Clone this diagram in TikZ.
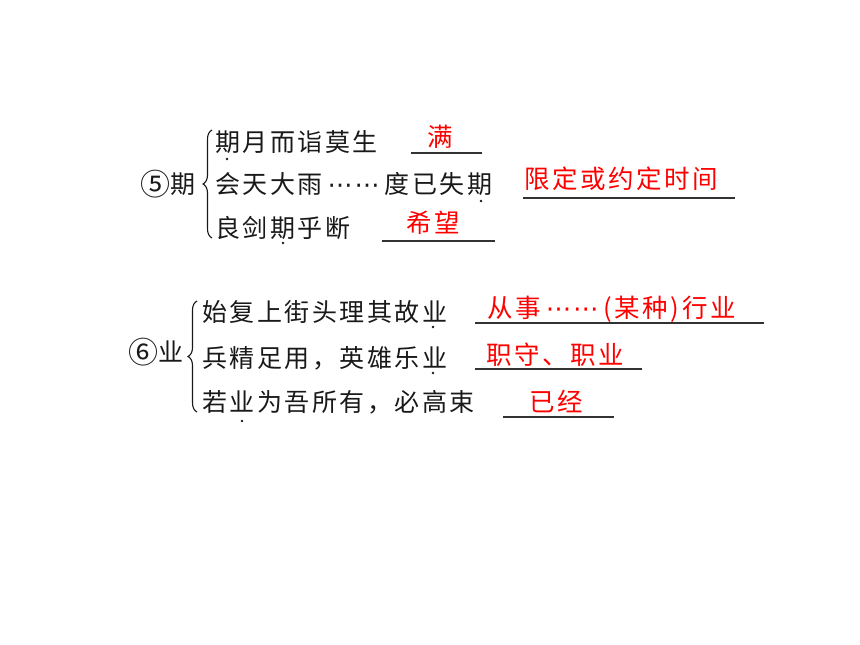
\documentclass[tikz,border=0pt]{standalone}
\usepackage{fontspec}
\setmainfont{Noto Sans CJK SC}
\newfontfamily\cjkfont[LetterSpace=10]{Noto Sans CJK SC}
\newfontfamily\plaincjk{Noto Sans CJK SC}
\newfontfamily\symfont{DejaVu Sans}
\newcommand\ellip{{\symfont\hspace{5pt}⋯\hspace{2pt}⋯\hspace{5pt}}}
\newcommand\circnum[1]{\raisebox{-1.5pt}{\plaincjk\fontsize{30}{30}\selectfont #1}}
\usetikzlibrary{decorations.pathreplacing}
\definecolor{txtcol}{RGB}{25,25,25}
\definecolor{linecol}{RGB}{50,50,50}
\definecolor{anscol}{RGB}{255,0,0}
\tikzset{
  txt/.style={anchor=base west, inner sep=0pt, font=\cjkfont\fontsize{25}{30}\selectfont, text=txtcol},
  ans/.style={anchor=base west, inner sep=0pt, font=\cjkfont\fontsize{25.5}{30}\selectfont, text=anscol},
  uline/.style={line width=1.8pt, draw=linecol},
  dotm/.style={fill=txtcol, circle, inner sep=0pt, minimum size=2.8pt},
  bracestyle/.style={decorate, decoration={brace, amplitude=9pt}, line width=1.1pt, draw=txtcol}
}
\begin{document}
\begin{tikzpicture}[x=1pt,y=-1pt]
\useasboundingbox (0,0) rectangle (860,645);
% block 5
\node[txt] (p5) at (140,193.5) {\circnum{⑤}期};
\node[txt] (l1) at (215,151.5) {期月而诣莫生};
\node[txt] (l2) at (215,193.5) {会天大雨\ellip 度已失期};
\node[txt] (l3) at (215,237.5) {良剑期乎断};
\draw[bracestyle] (212,238) -- (212,130);
\node[ans] (a1) at (427,146.5) {满};
\node[ans] (a2) at (524,188) {限定或约定时间};
\node[ans] (a3) at (406,232) {希望};
\coordinate (u1a) at (411,153); \coordinate (u1b) at (482,153);
\coordinate (u2a) at (523,198); \coordinate (u2b) at (735,198);
\coordinate (u3a) at (382,241); \coordinate (u3b) at (495,241);
\draw[uline] (u1a) -- (u1b);
\draw[uline] (u2a) -- (u2b);
\draw[uline] (u3a) -- (u3b);
\node[dotm] (d1) at (227,159) {};
\node[dotm] (d2) at (481,201) {};
\node[dotm] (d3) at (283,243) {};
% block 6
\node[txt] (p6) at (128,361.5) {\circnum{⑥}业};
\node[txt] (m1) at (202,321.5) {始复上街头理其故业};
\node[txt] (m2) at (202,367.5) {兵精足用，英雄乐业};
\node[txt] (m3) at (202,411.5) {若业为吾所有，必高束};
\draw[bracestyle] (197,412) -- (197,301);
\node[ans] (b1) at (487,317.5) {从事\ellip(某种)行业};
\node[ans] (b2) at (486,364.5) {职守、职业};
\node[ans] (b3) at (529,411.5) {已经};
\coordinate (v1a) at (475,323); \coordinate (v1b) at (764,323);
\coordinate (v2a) at (475,369); \coordinate (v2b) at (642,369);
\coordinate (v3a) at (503,417); \coordinate (v3b) at (614,417);
\draw[uline] (v1a) -- (v1b);
\draw[uline] (v2a) -- (v2b);
\draw[uline] (v3a) -- (v3b);
\node[dotm] (e1) at (433,327) {};
\node[dotm] (e2) at (433,373) {};
\node[dotm] (e3) at (242,421) {};
\end{tikzpicture}
\end{document}
